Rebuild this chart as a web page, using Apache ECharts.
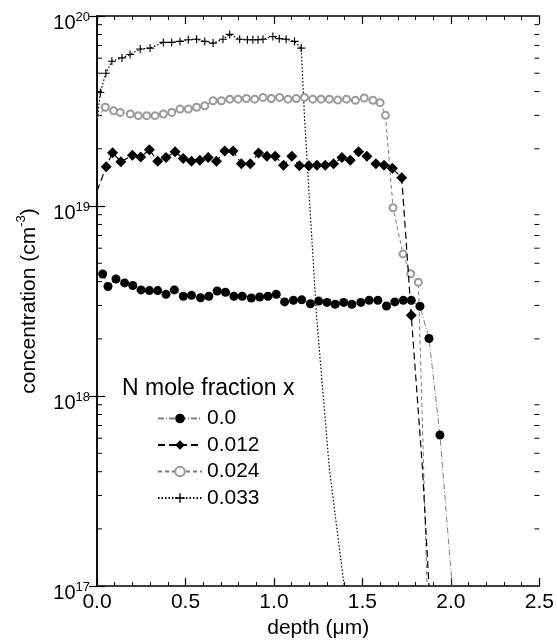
<!DOCTYPE html>
<html>
<head>
<meta charset="utf-8">
<script src="https://cdn.jsdelivr.net/npm/echarts@6/dist/echarts.min.js"></script>
<style>
html, body { margin: 0; padding: 0; background: #fff; }
#chart { width: 557px; height: 644px; }
</style>
</head>
<body>
<div id="chart"></div>
<script>
// depth in um, concentration in cm^-3
var depth0 = [0.032, 0.062, 0.107, 0.156, 0.202, 0.249, 0.296, 0.343, 0.390, 0.437,
  0.488, 0.534, 0.585, 0.632, 0.679, 0.726, 0.774, 0.821, 0.872, 0.919,
  0.966, 1.013, 1.060, 1.110, 1.157, 1.206, 1.253, 1.300, 1.346, 1.394,
  1.440, 1.491, 1.538, 1.587, 1.636, 1.683, 1.731, 1.776, 1.825, 1.876, 1.938, 2.007];
var conc0 = [4.39e18, 3.77e18, 4.13e18, 3.94e18, 3.82e18, 3.62e18, 3.59e18, 3.59e18, 3.43e18, 3.62e18,
  3.35e18, 3.39e18, 3.29e18, 3.35e18, 3.57e18, 3.52e18, 3.35e18, 3.35e18, 3.28e18, 3.32e18,
  3.35e18, 3.43e18, 3.13e18, 3.19e18, 3.21e18, 3.06e18, 3.16e18, 3.11e18, 3.04e18, 3.11e18,
  3.04e18, 3.11e18, 3.19e18, 3.19e18, 2.98e18, 3.13e18, 3.19e18, 3.19e18, 2.97e18, 2.01e18, 6.24e17, 1e17];
var bare0 = [41];

var depth12 = [0.0, 0.052, 0.088, 0.135, 0.200, 0.247, 0.296, 0.343, 0.390, 0.441, 0.487,
  0.534, 0.581, 0.628, 0.675, 0.722, 0.769, 0.816, 0.866, 0.913, 0.960,
  1.007, 1.054, 1.101, 1.144, 1.197, 1.243, 1.290, 1.337, 1.384, 1.431,
  1.478, 1.525, 1.576, 1.622, 1.669, 1.722, 1.776, 1.838, 1.876];
var conc12 = [1.2e19, 1.61e19, 1.91e19, 1.71e19, 1.85e19, 1.81e19, 1.98e19, 1.72e19, 1.80e19, 1.93e19, 1.78e19,
  1.72e19, 1.74e19, 1.80e19, 1.72e19, 1.95e19, 1.95e19, 1.67e19, 1.67e19, 1.90e19, 1.83e19,
  1.83e19, 1.64e19, 1.83e19, 1.63e19, 1.63e19, 1.64e19, 1.64e19, 1.67e19, 1.80e19, 1.74e19,
  1.93e19, 1.83e19, 1.67e19, 1.64e19, 1.58e19, 1.41e19, 2.66e18, 4.3e17, 1e17];
var bare12 = [0, 38, 39];

var depth24 = [0.0, 0.047, 0.094, 0.131, 0.188, 0.234, 0.281, 0.328, 0.375, 0.422,
  0.469, 0.516, 0.563, 0.609, 0.656, 0.703, 0.750, 0.797, 0.844, 0.891,
  0.938, 0.985, 1.032, 1.079, 1.126, 1.172, 1.219, 1.266, 1.313, 1.360,
  1.41, 1.46, 1.51, 1.56, 1.60, 1.63, 1.673, 1.729, 1.773, 1.816, 1.865];
var conc24 = [2.9e19, 3.31e19, 3.17e19, 3.11e19, 3.05e19, 2.99e19, 2.99e19, 2.99e19, 3.05e19, 3.11e19,
  3.24e19, 3.24e19, 3.31e19, 3.37e19, 3.58e19, 3.58e19, 3.65e19, 3.65e19, 3.68e19, 3.65e19,
  3.73e19, 3.68e19, 3.73e19, 3.65e19, 3.68e19, 3.73e19, 3.65e19, 3.65e19, 3.65e19, 3.61e19,
  3.65e19, 3.6e19, 3.7e19, 3.6e19, 3.5e19, 3.0e19, 9.8e18, 5.6e18, 4.4e18, 3.97e18, 1e17];
var bare24 = [0, 40];

var depth33 = [0.0, 0.019, 0.05, 0.084, 0.141, 0.187, 0.244, 0.300, 0.375, 0.422, 0.469, 0.516,
  0.563, 0.609, 0.656, 0.712, 0.750, 0.806, 0.85, 0.881, 0.91, 0.938, 0.994, 1.03, 1.069, 1.116,
  1.154, 1.173, 1.241, 1.313, 1.397];
var conc33 = [2.76e19, 3.96e19, 5.0e19, 5.78e19, 6.02e19, 6.27e19, 6.7e19, 6.78e19, 7.26e19, 7.26e19, 7.35e19, 7.5e19,
  7.55e19, 7.35e19, 7.2e19, 7.55e19, 8.0e19, 7.55e19, 7.5e19, 7.5e19, 7.5e19, 7.55e19, 7.8e19, 7.6e19, 7.55e19, 7.35e19,
  6.78e19, 2.87e19, 2.6e18, 4.15e17, 1e17];
var bare33 = [0, 27, 28, 29, 30];

var xTicks = [0, 0.5, 1.0, 1.5, 2.0, 2.5];
var yDecades = [17, 18, 19, 20];

var FONT = 'Liberation Sans, Arial, sans-serif';

function points(xs, ys, bare) {
  return xs.map(function (x, i) {
    var p = { value: [x, ys[i]] };
    if (bare.indexOf(i) >= 0) p.symbol = 'none';
    return p;
  });
}

var myChart = echarts.init(document.getElementById('chart'));

var axisLine = { show: true, lineStyle: { color: '#000', width: 1.5 } };

var option = {
  animation: false,
  backgroundColor: '#fff',
  title: {
    text: 'N mole fraction x',
    left: 117,
    top: 372,
    textStyle: { fontFamily: FONT, fontSize: 23, fontWeight: 'normal', color: '#000' }
  },
  legend: {
    orient: 'vertical',
    left: 157,
    top: 408,
    padding: 0,
    itemWidth: 44,
    itemHeight: 12,
    itemGap: 5.5,
    textStyle: { fontFamily: FONT, fontSize: 21, color: '#000', lineHeight: 21 },
    data: ['0.0', '0.012', '0.024', '0.033']
  },
  grid: { left: 97, right: 16, top: 16, bottom: 52 },
  xAxis: [{
    type: 'value',
    min: xTicks[0],
    max: xTicks[xTicks.length - 1],
    interval: 0.5,
    position: 'bottom',
    axisLine: axisLine,
    axisTick: { show: true, inside: true, length: 8, lineStyle: { color: '#000', width: 1.2 } },
    minorTick: { show: true, splitNumber: 5, length: 4, lineStyle: { color: '#000', width: 1 } },
    axisLabel: { fontFamily: FONT, fontSize: 21, color: '#000', margin: 6,
      formatter: function (v) { return v.toFixed(1); } },
    splitLine: { show: false },
    name: 'depth (μm)',
    nameLocation: 'middle',
    nameGap: 28,
    nameTextStyle: { fontFamily: FONT, fontSize: 21, color: '#000' }
  }, {
    type: 'value',
    min: xTicks[0],
    max: xTicks[xTicks.length - 1],
    interval: 0.5,
    position: 'top',
    axisLine: axisLine,
    axisTick: { show: true, inside: true, length: 8, lineStyle: { color: '#000', width: 1.2 } },
    minorTick: { show: true, splitNumber: 5, length: 4, lineStyle: { color: '#000', width: 1 } },
    axisLabel: { show: false },
    splitLine: { show: false }
  }],
  yAxis: [{
    type: 'log',
    logBase: 10,
    min: Math.pow(10, yDecades[0]),
    max: Math.pow(10, yDecades[yDecades.length - 1]),
    splitNumber: 3,
    position: 'left',
    axisLine: axisLine,
    axisTick: { show: true, inside: true, length: 8, lineStyle: { color: '#000', width: 1.2 } },
    splitLine: { show: false },
    axisLabel: {
      margin: 7,
      padding: [9, 0, 0, 0],
      formatter: function (v) {
        return '{b|10}{s|' + Math.round(Math.log10(v)) + '}';
      },
      rich: {
        b: { fontFamily: FONT, fontSize: 20, lineHeight: 20, color: '#000', padding: [6, 0, 0, 0] },
        s: { fontFamily: FONT, fontSize: 13, lineHeight: 13, color: '#000', verticalAlign: 'top' }
      }
    },
    name: '{n|concentration (cm}{s|-3}{n|)}',
    nameLocation: 'middle',
    nameRotate: 90,
    nameGap: 57,
    nameTextStyle: {
      rich: {
        n: { fontFamily: FONT, fontSize: 21, lineHeight: 25, color: '#000', padding: [4, 0, 0, 0] },
        s: { fontFamily: FONT, fontSize: 13, lineHeight: 13, color: '#000', verticalAlign: 'top' }
      }
    }
  }, {
    type: 'log',
    logBase: 10,
    min: Math.pow(10, yDecades[0]),
    max: Math.pow(10, yDecades[yDecades.length - 1]),
    splitNumber: 3,
    position: 'right',
    axisLine: axisLine,
    axisTick: { show: true, inside: true, length: 8, lineStyle: { color: '#000', width: 1.2 } },
    axisLabel: { show: false },
    splitLine: { show: false }
  }],
  series: [{
    name: '0.0',
    type: 'line',
    data: points(depth0, conc0, bare0),
    symbol: 'circle',
    symbolSize: 9,
    itemStyle: { color: '#000' },
    lineStyle: { color: '#808080', width: 1, type: [6, 2, 1, 2] },
    z: 4
  }, {
    name: '0.012',
    type: 'line',
    data: points(depth12, conc12, bare12),
    symbol: 'diamond',
    symbolSize: 11,
    itemStyle: { color: '#000' },
    lineStyle: { color: '#000', width: 1.2, type: [7, 4] },
    z: 3
  }, {
    name: '0.024',
    type: 'line',
    data: points(depth24, conc24, bare24),
    symbol: 'emptyCircle',
    symbolSize: 7,
    itemStyle: { color: '#9a9a9a', borderWidth: 1 },
    lineStyle: { color: '#7a7a7a', width: 1, type: [4, 3] },
    z: 2
  }, {
    name: '0.033',
    type: 'line',
    data: points(depth33, conc33, bare33),
    symbol: 'path://M4.3,0H5.7V10H4.3ZM0,4.3H10V5.7H0Z',
    symbolSize: 8,
    itemStyle: { color: '#000' },
    lineStyle: { color: '#000', width: 1.2, type: [1.5, 2] },
    z: 1
  }]
};

myChart.setOption(option);

// log minor ticks (2..9 in every decade) on left and right axes
var xl = myChart.convertToPixel({ xAxisIndex: 0 }, xTicks[0]);
var xr = myChart.convertToPixel({ xAxisIndex: 0 }, xTicks[xTicks.length - 1]);
var ticks = [];
for (var d = 0; d < yDecades.length - 1; d++) {
  for (var m = 2; m <= 9; m++) {
    var y = myChart.convertToPixel({ yAxisIndex: 0 }, m * Math.pow(10, yDecades[d]));
    ticks.push({ type: 'line', silent: true, shape: { x1: xl, y1: y, x2: xl + 5, y2: y },
      style: { stroke: '#000', lineWidth: 1 } });
    ticks.push({ type: 'line', silent: true, shape: { x1: xr - 5, y1: y, x2: xr, y2: y },
      style: { stroke: '#000', lineWidth: 1 } });
  }
}
myChart.setOption({ graphic: ticks });
</script>
</body>
</html>
